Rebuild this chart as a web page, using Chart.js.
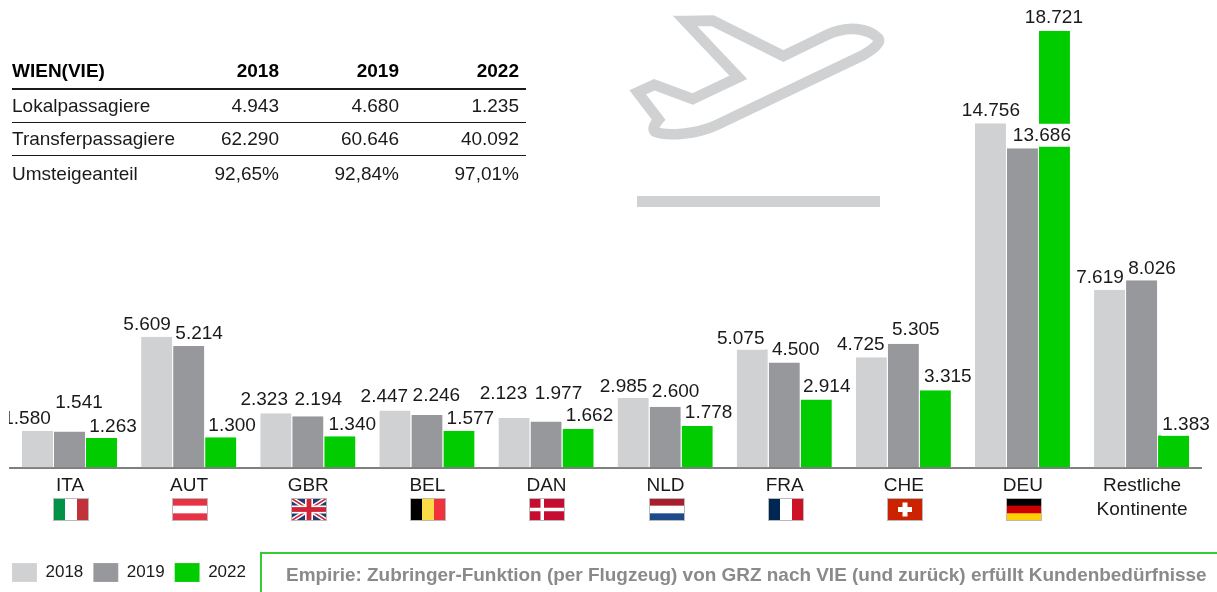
<!DOCTYPE html>
<html lang="de">
<head>
<meta charset="utf-8">
<title>Passagiere</title>
<script src="https://cdn.jsdelivr.net/npm/chart.js@4/dist/chart.umd.min.js"></script>
<style>
html,body{margin:0;padding:0;background:#fff}
body{width:1217px;height:592px;overflow:hidden;position:relative;font-family:"Liberation Sans",Arial,sans-serif;color:#1a1a1a}
canvas{position:absolute;left:0;top:0}
#tbl{position:absolute;left:12px;top:53px;width:514px;border-collapse:collapse;table-layout:fixed;font-size:19px;line-height:22px}
#tbl th,#tbl td{padding:0 7px 0 0;height:33px;text-align:right;box-sizing:border-box;white-space:nowrap}
#tbl th{height:36px}
#tbl tbody tr:last-child td{height:37px;padding-top:1px}
#tbl th:first-child,#tbl td:first-child{text-align:left;width:154px}
#tbl thead th{border-bottom:2px solid #1a1a1a;color:#000}
#tbl tbody tr:not(:last-child) td{border-bottom:1px solid #1a1a1a}
#plane{position:absolute;left:600px;top:0}
#box{position:absolute;left:260px;top:552px;width:957px;height:40px;box-sizing:border-box;border-top:2px solid #33cc33;border-left:2px solid #33cc33;color:#8a8a8a;font-weight:bold;font-size:18.95px;line-height:42px;padding-left:24px;white-space:nowrap}
</style>
</head>
<body>
<canvas id="c" width="1217" height="592"></canvas>
<table id="tbl"><thead><tr id="thead"></tr></thead><tbody id="tbody"></tbody></table>
<svg id="plane" width="320" height="220" viewBox="0 0 960 660">
<path d="M255 63 L338 62 L550 168 L680 105 C745 75 805 85 835 115 C845 130 815 150 790 165 L350 375 C290 403 200 410 165 395 C155 385 165 372 176 359 L113 277 L163 254 L278 297 L415 232 Z" fill="none" stroke="#d0d1d3" stroke-width="32" stroke-linejoin="miter"/>
<rect x="111" y="588" width="729" height="33" fill="#d0d1d3"/>
</svg>
<div id="box">Empirie: Zubringer-Funktion (per Flugzeug) von GRZ nach VIE (und zurück) erfüllt Kundenbedürfnisse</div>
<script>
const categories = ["ITA","AUT","GBR","BEL","DAN","NLD","FRA","CHE","DEU",["Restliche","Kontinente"]];
const flagCodes = ["it","at","gb","be","dk","nl","fr","ch","de",null];
const seriesNames = ["2018","2019","2022"];
const values2018 = [1580,5609,2323,2447,2123,2985,5075,4725,14756,7619];
const values2019 = [1541,5214,2194,2246,1977,2600,4500,5305,13686,8026];
const values2022 = [1263,1300,1340,1577,1662,1778,2914,3315,18721,1383];
const tableHeader = ["WIEN(VIE)","2018","2019","2022"];
const tableRow1 = ["Lokalpassagiere","4.943","4.680","1.235"];
const tableRow2 = ["Transferpassagiere","62.290","60.646","40.092"];
const tableRow3 = ["Umsteigeanteil","92,65%","92,84%","97,01%"];

// hand placement of the value labels, relative to the top centre of each bar
const nudge2018 = [[-11,-12],[-10,-12],[-12,-14],[-11,-14],[-11,-25],[-10,-12],[-12,-11],[-11,-13],[0,-13],[-10,-13]];
const nudge2019 = [[9,-29],[10,-13],[10,-17],[9,-20],[12,-28],[10,-16],[11,-13],[12,-14],[19,-13],[10,-12]];
const nudge2022 = [[11,-12],[11,-12],[12,-12],[11,-12],[11,-13],[11,-14],[10,-13],[12,-14],[-1,-14],[12,-11]];
const nudges = [nudge2018,nudge2019,nudge2022];

document.getElementById('thead').innerHTML = tableHeader.map(t=>`<th>${t}</th>`).join('');
document.getElementById('tbody').innerHTML = [tableRow1,tableRow2,tableRow3].map(r=>`<tr>${r.map(t=>`<td>${t}</td>`).join('')}</tr>`).join('');

const FONT = '"Liberation Sans", Arial, sans-serif';
const fmt = v => v.toLocaleString('de-DE');

const valueLabels = {
  id:'valueLabels',
  afterDatasetsDraw(chart){
    const ctx = chart.ctx, items = [];
    ctx.save();
    ctx.font = '19px '+FONT;
    chart.data.datasets.forEach((ds,d)=>{
      chart.getDatasetMeta(d).data.forEach((bar,i)=>{
        const t = fmt(ds.data[i]);
        items.push({t, x:bar.x+nudges[d][i][0], y:bar.y+nudges[d][i][1], w:ctx.measureText(t).width});
      });
    });
    ctx.beginPath();
    ctx.rect(chart.chartArea.left-1.5,0,chart.width,chart.height);
    ctx.clip();
    ctx.fillStyle='#fff';
    items.forEach(o=>ctx.fillRect(o.x-o.w/2-1,o.y-11.5,o.w+2,23));
    ctx.fillStyle='#1a1a1a';
    ctx.textAlign='center';
    ctx.textBaseline='middle';
    items.forEach(o=>ctx.fillText(o.t,o.x,o.y+0.5));
    ctx.restore();
  }
};

function drawFlag(ctx,code,x,y,w,h){
  ctx.save();
  ctx.beginPath();ctx.rect(x,y,w,h);ctx.clip();
  const vs=(cols)=>cols.forEach((c,i)=>{ctx.fillStyle=c;ctx.fillRect(x+i*w/cols.length,y,w/cols.length+.5,h);});
  const hs=(cols)=>cols.forEach((c,i)=>{ctx.fillStyle=c;ctx.fillRect(x,y+i*h/cols.length,w,h/cols.length+.5);});
  if(code==='it')vs(['#009246','#ffffff','#c1323b']);
  if(code==='at')hs(['#e83345','#ffffff','#e83345']);
  if(code==='be')vs(['#000000','#fadc46','#f0323f']);
  if(code==='nl')hs(['#a81e2d','#ffffff','#1d4a8a']);
  if(code==='fr')vs(['#002654','#ffffff','#ce1126']);
  if(code==='de')hs(['#000000','#cc0000','#ffce00']);
  if(code==='dk'){
    ctx.fillStyle='#c60c30';ctx.fillRect(x,y,w,h);
    ctx.fillStyle='#fff';ctx.fillRect(x+11.5,y,3.5,h);ctx.fillRect(x,y+h/2-1.75,w,3.5);
  }
  if(code==='ch'){
    ctx.fillStyle='#cc2200';ctx.fillRect(x,y,w,h);
    ctx.fillStyle='#fff';ctx.fillRect(x+w/2-7,y+h/2-2.5,14,5);ctx.fillRect(x+w/2-2.5,y+h/2-7,5,14);
  }
  if(code==='gb'){
    ctx.fillStyle='#1d3c6f';ctx.fillRect(x,y,w,h);
    ctx.lineCap='butt';
    const diag=(col,lw)=>{ctx.strokeStyle=col;ctx.lineWidth=lw;ctx.beginPath();ctx.moveTo(x,y);ctx.lineTo(x+w,y+h);ctx.moveTo(x+w,y);ctx.lineTo(x,y+h);ctx.stroke();};
    diag('#fff',4.5);diag('#cf2338',1.5);
    ctx.fillStyle='#fff';ctx.fillRect(x+w/2-4,y,8,h);ctx.fillRect(x,y+h/2-4,w,8);
    ctx.fillStyle='#cf2338';ctx.fillRect(x+w/2-2.4,y,4.8,h);ctx.fillRect(x,y+h/2-2.4,w,4.8);
  }
  ctx.restore();
  ctx.save();ctx.strokeStyle='#b9b9b9';ctx.lineWidth=1;ctx.strokeRect(x+.5,y+.5,w-1,h-1);ctx.restore();
}

const flags = {
  id:'flags',
  afterDraw(chart){
    const sx = chart.scales.x;
    flagCodes.forEach((code,i)=>{
      if(code) drawFlag(chart.ctx,code,Math.round(sx.getPixelForValue(i)-17),498,36,23);
    });
  }
};

const colors = ['#d0d1d3','#97989c','#00cc00'];
const seriesValues = [values2018,values2019,values2022];

new Chart(document.getElementById('c'),{
  type:'bar',
  data:{
    labels:categories,
    datasets:seriesNames.map((n,i)=>({
      label:n,
      data:seriesValues[i],
      backgroundColor:colors[i],
      borderColor:'rgba(255,255,255,0.7)',
      borderWidth:{top:0,left:0,right:1,bottom:0},
      borderSkipped:false,
      categoryPercentage:0.806,
      barPercentage:1
    }))
  },
  plugins:[valueLabels,flags],
  options:{
    responsive:false,
    animation:false,
    devicePixelRatio:1,
    layout:{padding:{left:2,right:15.4,top:1,bottom:0}},
    scales:{
      x:{
        grid:{display:false,drawTicks:false},
        border:{display:true,color:'#7f7f7f',width:2},
        ticks:{color:'#1a1a1a',font:{family:FONT,size:19,lineHeight:1.22},padding:7,maxRotation:0,minRotation:0,autoSkip:false},
        afterFit(s){s.height=85.5;}
      },
      y:{
        min:0,max:20000,
        grid:{display:false,drawTicks:false},
        border:{display:false},
        ticks:{display:false},
        afterFit(s){s.width=8.45;}
      }
    },
    plugins:{
      title:{display:false},
      tooltip:{enabled:false},
      legend:{
        display:true,
        position:'bottom',
        align:'start',
        labels:{boxWidth:25,boxHeight:19,padding:10,color:'#1a1a1a',font:{family:FONT,size:17}}
      }
    }
  }
});
</script>
</body>
</html>
